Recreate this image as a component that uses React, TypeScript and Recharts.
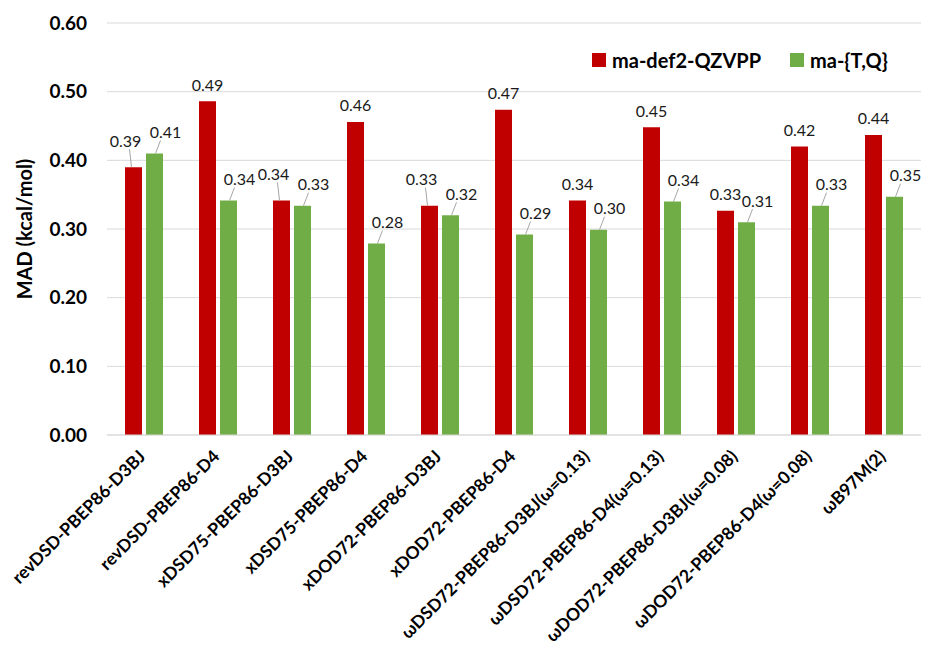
import React from "react";
import { BarChart, Bar, XAxis, YAxis, CartesianGrid, LabelList } from "recharts";

const categories = [
  "revDSD-PBEP86-D3BJ",
  "revDSD-PBEP86-D4",
  "xDSD75-PBEP86-D3BJ",
  "xDSD75-PBEP86-D4",
  "xDOD72-PBEP86-D3BJ",
  "xDOD72-PBEP86-D4",
  "ωDSD72-PBEP86-D3BJ(ω=0.13)",
  "ωDSD72-PBEP86-D4(ω=0.13)",
  "ωDOD72-PBEP86-D3BJ(ω=0.08)",
  "ωDOD72-PBEP86-D4(ω=0.08)",
  "ωB97M(2)",
];
const madQZVPP = [0.39, 0.486, 0.3415, 0.456, 0.334, 0.4735, 0.3415, 0.448, 0.3265, 0.42, 0.437];
const madTQ = [0.41, 0.3415, 0.334, 0.279, 0.32, 0.292, 0.299, 0.34, 0.31, 0.334, 0.347];
const yTicks = [0, 0.1, 0.2, 0.3, 0.4, 0.5, 0.6];
const seriesNames = ["ma-def2-QZVPP", "ma-{T,Q}"];

const RED = "#C00000";
const GREEN = "#70AD47";
const FONT = "Lato, 'Open Sans', sans-serif";
const LEADER = "#A6A6A6";

const data = categories.map((name, i) => ({ name, qz: madQZVPP[i], tq: madTQ[i] }));

const CategoryTick = (props: any) => {
  const { x, y, payload } = props;
  return (
    <g transform={`translate(${x - 2},${y + 10})`}>
      <text
        textAnchor="end"
        dominantBaseline="central"
        transform="rotate(-45)"
        fontFamily={FONT}
        fontWeight={700}
        fontSize={17.5}
        fill="#000"
      >
        {payload.value}
      </text>
    </g>
  );
};

const labelText = (cx: number, cy: number, v: number) => (
  <text
    x={cx}
    y={cy}
    textAnchor="middle"
    dominantBaseline="central"
    fontFamily={FONT}
    fontSize={16}
    fill="#1a1a1a"
  >
    {v.toFixed(2)}
  </text>
);

const RedLabel = (props: any) => {
  const { x, y, width, value, index } = props;
  const bc = x + width / 2;
  const crowded = madTQ[index] >= madQZVPP[index] - 0.016;
  if (!crowded) {
    return <g>{labelText(bc, y - 17, value)}</g>;
  }
  const lx = bc - 8;
  const ly = y - 27;
  return (
    <g>
      <line x1={bc - 2} y1={y} x2={lx + 4} y2={ly + 9} stroke={LEADER} strokeWidth={1} />
      {labelText(lx, ly, value)}
    </g>
  );
};

const GreenLabel = (props: any) => {
  const { x, y, width, value } = props;
  const bc = x + width / 2;
  const lx = bc + 11;
  const ly = y - 22;
  return (
    <g>
      <line x1={bc + 1} y1={y} x2={lx - 5} y2={ly + 9} stroke={LEADER} strokeWidth={1} />
      {labelText(lx, ly, value)}
    </g>
  );
};

const YTitle = (props: any) => {
  const vb = props.viewBox || { x: 0, y: 23, width: 107, height: 412 };
  const cx = vb.x + 24;
  const cy = vb.y + vb.height / 2;
  return (
    <text
      x={cx}
      y={cy}
      transform={`rotate(-90, ${cx}, ${cy})`}
      textAnchor="middle"
      dominantBaseline="central"
      fontFamily={FONT}
      fontWeight={700}
      fontSize={20}
      fill="#000"
    >
      MAD (kcal/mol)
    </text>
  );
};

const LegendBox = () => (
  <div
    style={{
      position: "absolute",
      top: 47,
      left: 592,
      display: "flex",
      alignItems: "center",
      fontFamily: FONT,
      fontWeight: 700,
      fontSize: 20,
      color: "#000",
      whiteSpace: "nowrap",
      lineHeight: "26px",
    }}
  >
    {seriesNames.map((n, i) => (
      <div key={n} style={{ display: "flex", alignItems: "center", width: i === 0 ? 198 : "auto" }}>
        <span style={{ display: "inline-block", width: 14, height: 14, background: i === 0 ? RED : GREEN, marginRight: 6 }} />
        <span>{n}</span>
      </div>
    ))}
  </div>
);

export default function App() {
  return (
    <div style={{ position: "absolute", left: 0, top: 0, width: 933, height: 650, background: "#fff" }}>
      <BarChart
        width={933}
        height={650}
        data={data}
        margin={{ top: 23, right: 12, left: 0, bottom: 0 }}
        barGap={4}
        barSize={17}
      >
        <CartesianGrid vertical={false} stroke="#D9D9D9" strokeWidth={1} />
        <XAxis
          dataKey="name"
          interval={0}
          height={215}
          tickLine={false}
          axisLine={{ stroke: "#D9D9D9" }}
          tick={<CategoryTick />}
        />
        <YAxis
          width={107}
          domain={[0, 0.6]}
          ticks={yTicks}
          tickFormatter={(v: number) => v.toFixed(2)}
          axisLine={false}
          tickLine={false}
          tickMargin={14}
          tick={{ fontFamily: FONT, fontWeight: 700, fontSize: 19, fill: "#000" }}
          label={<YTitle />}
        />
        <Bar dataKey="qz" name={seriesNames[0]} fill={RED} isAnimationActive={false}>
          <LabelList dataKey="qz" content={<RedLabel />} />
        </Bar>
        <Bar dataKey="tq" name={seriesNames[1]} fill={GREEN} isAnimationActive={false}>
          <LabelList dataKey="tq" content={<GreenLabel />} />
        </Bar>
      </BarChart>
      <LegendBox />
    </div>
  );
}
